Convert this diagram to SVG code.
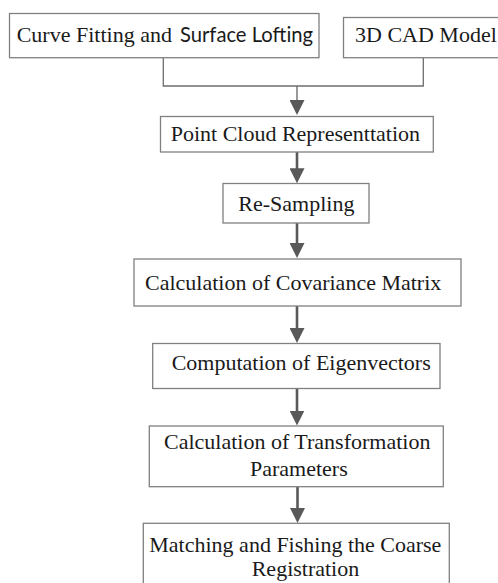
<svg xmlns="http://www.w3.org/2000/svg" width="498" height="583" viewBox="0 0 498 583">
<style>
.box{fill:#ffffff;stroke:#808080;stroke-width:1.3}
.t{font-family:"Liberation Serif","Times New Roman",serif;font-size:22px;fill:#1a1a1a}
.s{font-family:Lato,"Liberation Sans",sans-serif;font-size:22px;fill:#1a1a1a}
.thin{fill:none;stroke:#6e6e6e;stroke-width:1.3}
.arr{fill:none;stroke:#595959;stroke-width:2.6;marker-end:url(#ah)}
.arr1{fill:none;stroke:#6e6e6e;stroke-width:1.4;marker-end:url(#ah)}
</style>
<defs>
<marker id="ah" markerUnits="userSpaceOnUse" markerWidth="15" markerHeight="15" viewBox="0 0 15 15" refX="10" refY="7.5" orient="auto">
<path d="M0,0 L15,7.5 L0,15 z" fill="#595959"/>
</marker>
</defs>
<rect width="498" height="583" fill="#ffffff"/>
<g id="connectors">
<polyline class="thin" points="163.3,57.7 163.3,86 423.3,86 423.3,57.7"/>
<line class="arr1" x1="297" y1="86" x2="297" y2="110"/>
<line class="arr" x1="297" y1="152" x2="297" y2="178.3"/>
<line class="arr" x1="297" y1="223" x2="297" y2="253"/>
<line class="arr" x1="297" y1="306" x2="297" y2="338"/>
<line class="arr" x1="297" y1="388.5" x2="297" y2="420.5"/>
<line class="arr" x1="297.5" y1="487" x2="297.5" y2="518"/>
</g>
<g id="n1">
<rect class="box" x="9.5" y="13.5" width="309.5" height="44.2"/>
<text class="t" x="16.7" y="42.3">Curve Fitting and </text>
<text class="s" x="180" y="42.3" textLength="133" lengthAdjust="spacingAndGlyphs">Surface Lofting</text>
</g>
<g id="n2">
<rect class="box" x="343.5" y="17.5" width="158" height="40.2"/>
<text class="t" x="355" y="42.3">3D CAD Model</text>
</g>
<g id="n3">
<rect class="box" x="160.5" y="116.5" width="272.8" height="35.5"/>
<text class="t" x="170.7" y="140.5">Point Cloud Representtation</text>
</g>
<g id="n4">
<rect class="box" x="223" y="183.5" width="146" height="39.5"/>
<text class="t" x="238.3" y="210.7">Re-Sampling</text>
</g>
<g id="n5">
<rect class="box" x="134" y="259" width="327" height="47"/>
<text class="t" x="145" y="290">Calculation of Covariance Matrix</text>
</g>
<g id="n6">
<rect class="box" x="152.7" y="343.5" width="287.3" height="45"/>
<text class="t" x="171.7" y="370">Computation of Eigenvectors</text>
</g>
<g id="n7">
<rect class="box" x="149.3" y="426" width="294" height="60.7"/>
<text class="t" x="164" y="449.3">Calculation of Transformation</text>
<text class="t" x="250" y="476">Parameters</text>
</g>
<g id="n8">
<rect class="box" x="143.3" y="523.3" width="306" height="70"/>
<text class="t" x="149.3" y="551.7">Matching and Fishing the Coarse</text>
<text class="t" x="251.7" y="576">Registration</text>
</g>
</svg>
